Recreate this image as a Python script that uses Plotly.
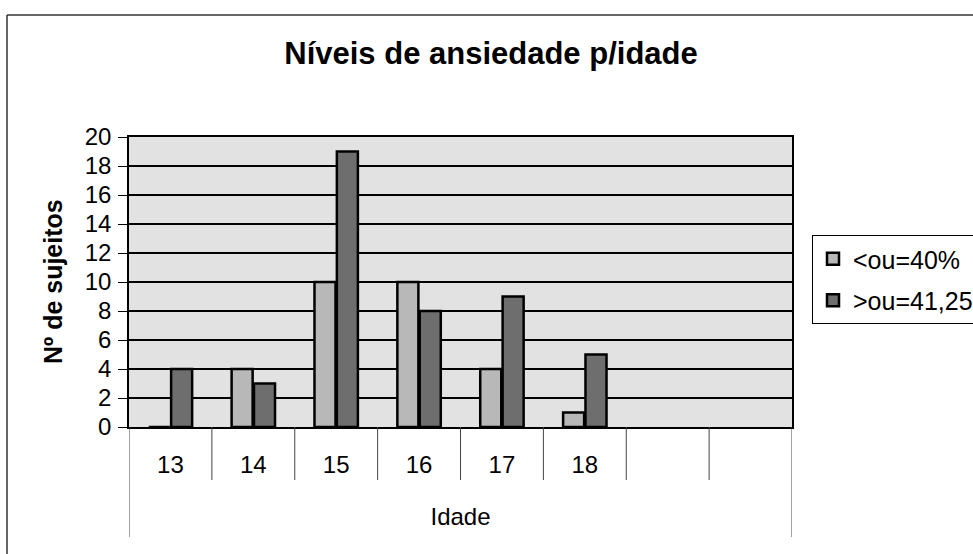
import plotly.graph_objects as go

categories = ["13", "14", "15", "16", "17", "18"]
extra_slots = 2
series_names = ["<ou=40%", ">ou=41,25"]
low_values = [0, 4, 10, 10, 4, 1]
high_values = [4, 3, 19, 8, 9, 5]
y_ticks = list(range(0, 21, 2))

W, H = 973, 554
L, R, T, B = 129, 792, 137, 427
pw, ph = R - L, B - T

def px(x):
    return (x - L) / pw

def py(y):
    return (B - y) / ph

n_slots = len(categories) + extra_slots
xs = list(range(len(categories)))

FONT = "Liberation Sans, Arial, sans-serif"
NARROW = "Liberation Sans Narrow, Arial Narrow, Liberation Sans, sans-serif"

fig = go.Figure()
fig.add_trace(go.Bar(
    x=xs, y=low_values, name=series_names[0], legendgroup="a",
    marker=dict(color="#b8b8b8", line=dict(color="black", width=2.5)),
))
fig.add_trace(go.Bar(
    x=xs, y=high_values, name=series_names[1], legendgroup="b",
    marker=dict(color="#6e6e6e", line=dict(color="black", width=2.5)),
))

shapes = []
for i in range(n_slots - 1):
    shapes.append(dict(type="line", xref="x", yref="paper",
                       x0=i + 0.5, x1=i + 0.5, y0=0, y1=py(480),
                       line=dict(color="#444", width=1)))
for xv in (-0.5, n_slots - 0.5):
    shapes.append(dict(type="line", xref="x", yref="paper",
                       x0=xv, x1=xv, y0=0, y1=py(537),
                       line=dict(color="#444", width=1)))
shapes.append(dict(type="line", xref="paper", yref="paper",
                   x0=px(7), x1=px(980), y0=py(15), y1=py(15),
                   line=dict(color="#333", width=1.5)))
shapes.append(dict(type="line", xref="paper", yref="paper",
                   x0=px(7), x1=px(7), y0=py(15), y1=py(560),
                   line=dict(color="#333", width=1.5)))

fig.update_layout(
    width=W, height=H,
    margin=dict(l=L, r=W - R, t=T, b=H - B, autoexpand=False),
    paper_bgcolor="white",
    plot_bgcolor="#e2e2e2",
    font=dict(family=FONT, color="black", size=22),
    title=dict(text="<b>Níveis de ansiedade p/idade</b>",
               x=px(491), xref="paper", xanchor="center",
               y=1 - 53 / H, yanchor="middle",
               font=dict(size=31)),
    barmode="group",
    bargap=0.46,
    bargroupgap=0.06,
    showlegend=True,
    legend=dict(x=px(812), y=py(235), xanchor="left", yanchor="top",
                bgcolor="white", bordercolor="black", borderwidth=1,
                font=dict(size=25), itemwidth=30,
                tracegroupgap=6),
    shapes=shapes,
    annotations=[dict(text="<b>Nº de sujeitos</b>", textangle=-90,
                      xref="paper", yref="paper", x=px(53), y=0.5,
                      xanchor="center", yanchor="middle", showarrow=False,
                      font=dict(size=25))],
)

fig.update_xaxes(
    range=[-0.5, n_slots - 0.5],
    tickvals=xs, ticktext=categories,
    tickfont=dict(family=NARROW, size=24),
    ticks="", ticklabelstandoff=15,
    showgrid=False, zeroline=False,
    showline=True, linecolor="black", linewidth=1.5, mirror=True,
    title=dict(text="Idade", standoff=32, font=dict(family=NARROW, size=24)),
    fixedrange=True,
)
fig.update_yaxes(
    range=[0, 20],
    tickvals=y_ticks,
    tickfont=dict(size=24),
    ticks="outside", ticklen=9, tickcolor="black", tickwidth=1,
    ticklabelstandoff=2,
    showgrid=True, gridcolor="black", gridwidth=1.5,
    zeroline=False,
    showline=True, linecolor="black", linewidth=1.5, mirror=True,
    fixedrange=True,
)

fig.write_html("out.html",
               config={"displayModeBar": False},
               post_script="document.body.style.margin='0';document.body.style.overflow='hidden';")
